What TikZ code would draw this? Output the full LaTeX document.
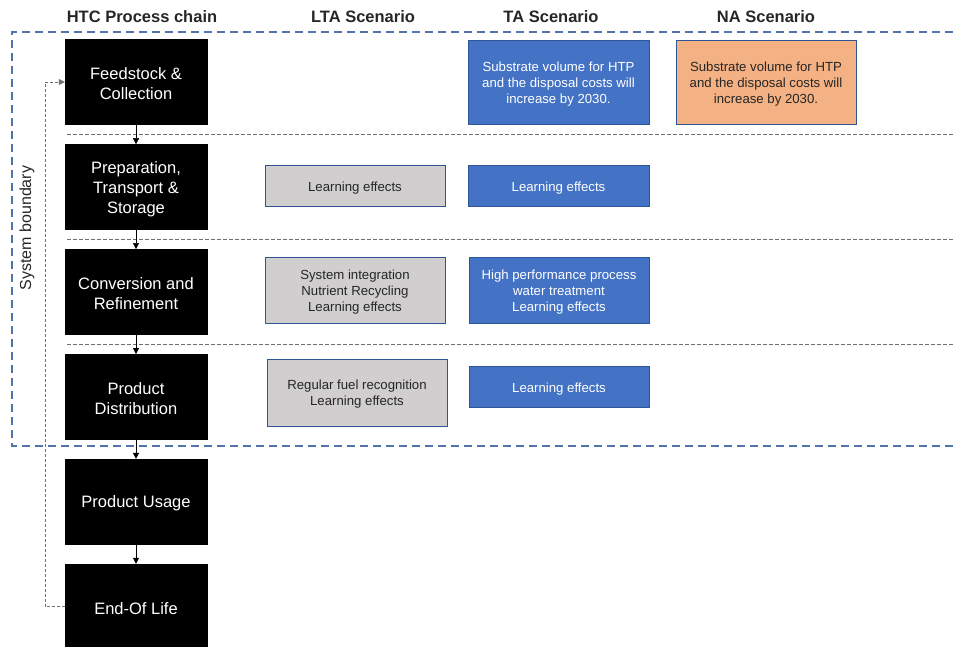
\documentclass[tikz,border=0pt]{standalone}
\usepackage{fontspec}
\setmainfont{Liberation Sans}
\usetikzlibrary{positioning}
\usetikzlibrary{arrows.meta}
\definecolor{BOUNDARY}{HTML}{5274AC}
\definecolor{TA_BLUE}{HTML}{4472C4}
\definecolor{EDGE_BLUE}{HTML}{2F5597}
\definecolor{NA_ORANGE}{HTML}{F4B183}
\definecolor{LTA_GRAY}{HTML}{D0CECE}
\definecolor{SEP_GRAY}{HTML}{707070}
\tikzset{
	% a zero width strut, pushes the text a little lower in its box
	nudge/.style = {execute at begin node={\rule{0pt}{#1}}},
	stage/.style = {draw=black, fill=black, text=white, minimum width=142pt, minimum height=85pt, inner sep=0pt, align=center, font=\fontsize{16.5}{20}\selectfont, nudge=15.5pt},
	scenario/.style = {draw=EDGE_BLUE, semithick, inner sep=0pt, align=center, font=\fontsize{13.2}{16}\selectfont, nudge=14pt},
	lta/.style = {scenario, fill=LTA_GRAY, text=black!85},
	ta/.style = {scenario, fill=TA_BLUE, text=white},
	na/.style = {scenario, fill=NA_ORANGE, text=black!85},
	head/.style = {font=\fontsize{16.5}{20}\selectfont\bfseries, text=black!85},
	flow/.style = {-{Triangle[length=6pt, width=6pt]}, black, thin},
	feedback/.style = {-{Triangle[length=6pt, width=6pt]}, SEP_GRAY, thin, dash pattern=on 3pt off 2pt},
	sep/.style = {SEP_GRAY, thin, dash pattern=on 4pt off 2pt},
	boundary/.style = {BOUNDARY, line width=1.2pt, dash pattern=on 8pt off 5pt}
}

\begin{document}
\begin{tikzpicture}[x=1pt, y=-1pt, node distance=19.5pt]
		\useasboundingbox (0,0) rectangle (953,646);

		% column heads
		\node[head] (hhtc) at (142,17) {HTC Process chain};
		\node[head] (hlta) at (363,17) {LTA Scenario};
		\node[head] (hta) at (551,17) {TA Scenario};
		\node[head] (hna) at (766,17) {NA Scenario};

		% system boundary
		\draw[boundary] (953,32) -- (12,32) -- (12,446) -- (953,446);
		\node[rotate=90, font=\fontsize{16}{19}\selectfont, text=black!85] (sysb) at (27,228) {System boundary};

		% row separators
		\draw[sep] (67,134) -- (953,134);
		\draw[sep] (67,239) -- (953,239);
		\draw[sep] (67,344) -- (953,344);

		% process chain
		\node[stage, nudge=36pt] (feed) at (136,82) {Feedstock \&\\Collection};
		\node[stage, nudge=56pt, below=of feed] (prep) {Preparation,\\Transport \&\\Storage};
		\node[stage, nudge=36pt, below=of prep] (conv) {Conversion and\\Refinement};
		\node[stage, nudge=36pt, below=of conv] (dist) {Product\\Distribution};
		\node[stage, below=of dist] (usage) {Product Usage};
		\node[stage, below=of usage] (life) {End-Of Life};

		\draw[flow] (feed) -- (prep);
		\draw[flow] (prep) -- (conv);
		\draw[flow] (conv) -- (dist);
		\draw[flow] (dist) -- (usage);
		\draw[flow] (usage) -- (life);
		\draw[feedback] (life.west) -- ++(-20,0) |- (feed.west);

		% feedstock row
		\node[ta, nudge=46pt, minimum width=181pt, minimum height=84pt] (tafeed) at (558.5,82) {Substrate volume for HTP\\and the disposal costs will\\increase by 2030.};
		\node[na, nudge=46pt, minimum width=180pt, minimum height=84pt] (nafeed) at (766,82) {Substrate volume for HTP\\and the disposal costs will\\increase by 2030.};

		% preparation row
		\node[lta, minimum width=180pt, minimum height=41pt] (ltaprep) at (355,185.5) {Learning effects};
		\node[ta, minimum width=181pt, minimum height=41pt] (taprep) at (558.5,185.5) {Learning effects};

		% conversion row
		\node[lta, nudge=46pt, minimum width=180pt, minimum height=66pt] (ltaconv) at (355,290) {System integration\\Nutrient Recycling\\Learning effects};
		\node[ta, nudge=46pt, minimum width=180pt, minimum height=66pt] (taconv) at (559,290) {High performance process\\water treatment\\Learning effects};

		% distribution row
		\node[lta, nudge=29.5pt, minimum width=180pt, minimum height=67pt] (ltadist) at (357,392.5) {Regular fuel recognition\\Learning effects};
		\node[ta, minimum width=180pt, minimum height=41pt] (tadist) at (559,386.5) {Learning effects};
	\end{tikzpicture}
\end{document}
